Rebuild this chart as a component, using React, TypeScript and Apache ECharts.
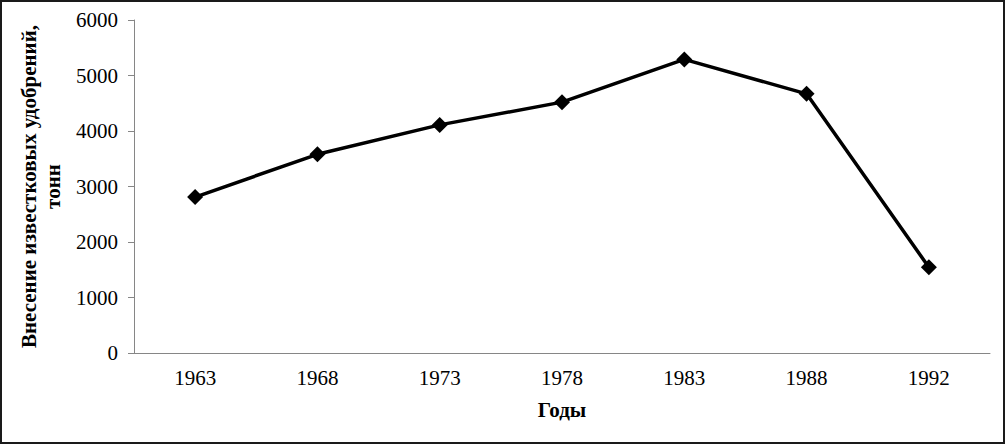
import React, { useEffect, useRef } from "react";
import * as echarts from "echarts";

const years = ["1963", "1968", "1973", "1978", "1983", "1988", "1992"];
const values = [2810, 3580, 4110, 4520, 5290, 4670, 1545];
const yTicks = { min: 0, max: 6000, interval: 1000 };
const yTitle = "Внесение известковых удобрений,\nтонн";
const xTitle = "Годы";

export default function App() {
  const ref = useRef<HTMLDivElement>(null);
  useEffect(() => {
    document.body.style.margin = "0";
    const chart = echarts.init(ref.current!, null, { renderer: "svg" });
    const font = "'Liberation Serif', 'Times New Roman', serif";
    chart.setOption({
      animation: false,
      backgroundColor: "#fff",
      textStyle: { fontFamily: font },
      grid: { left: 134, right: 15, top: 20, bottom: 91, containLabel: false },
      graphic: [
        {
          type: "rect",
          shape: { x: 1, y: 1, width: 1003, height: 442 },
          style: { fill: "none", stroke: "#1a1a1a", lineWidth: 2 },
          silent: true,
        },
      ],
      xAxis: {
        type: "category",
        data: years,
        boundaryGap: true,
        axisLine: { lineStyle: { color: "#868686", width: 1 } },
        axisTick: { show: false },
        axisLabel: { color: "#000", fontSize: 21, margin: 14, fontFamily: font },
        name: xTitle,
        nameLocation: "middle",
        nameGap: 46,
        nameTextStyle: { color: "#000", fontSize: 21, fontWeight: "bold", fontFamily: font },
      },
      yAxis: {
        type: "value",
        min: yTicks.min,
        max: yTicks.max,
        interval: yTicks.interval,
        splitLine: { show: false },
        axisLine: { show: true, lineStyle: { color: "#868686", width: 1 } },
        axisTick: { show: true, length: 6, lineStyle: { color: "#868686" } },
        axisLabel: {
          color: "#000",
          fontSize: 21,
          margin: 16,
          fontFamily: font,
          formatter: (v: number) => String(v),
        },
        name: yTitle,
        nameLocation: "middle",
        nameGap: 52,
        nameRotate: 90,
        nameTextStyle: {
          color: "#000",
          fontSize: 21,
          fontWeight: "bold",
          fontFamily: font,
          lineHeight: 24,
        },
      },
      series: [
        {
          type: "line",
          data: values,
          symbol: "diamond",
          symbolSize: 16,
          lineStyle: { color: "#000", width: 3.5 },
          itemStyle: { color: "#000" },
        },
      ],
    });
    return () => chart.dispose();
  }, []);
  return <div ref={ref} style={{ width: 1005, height: 444 }} />;
}
